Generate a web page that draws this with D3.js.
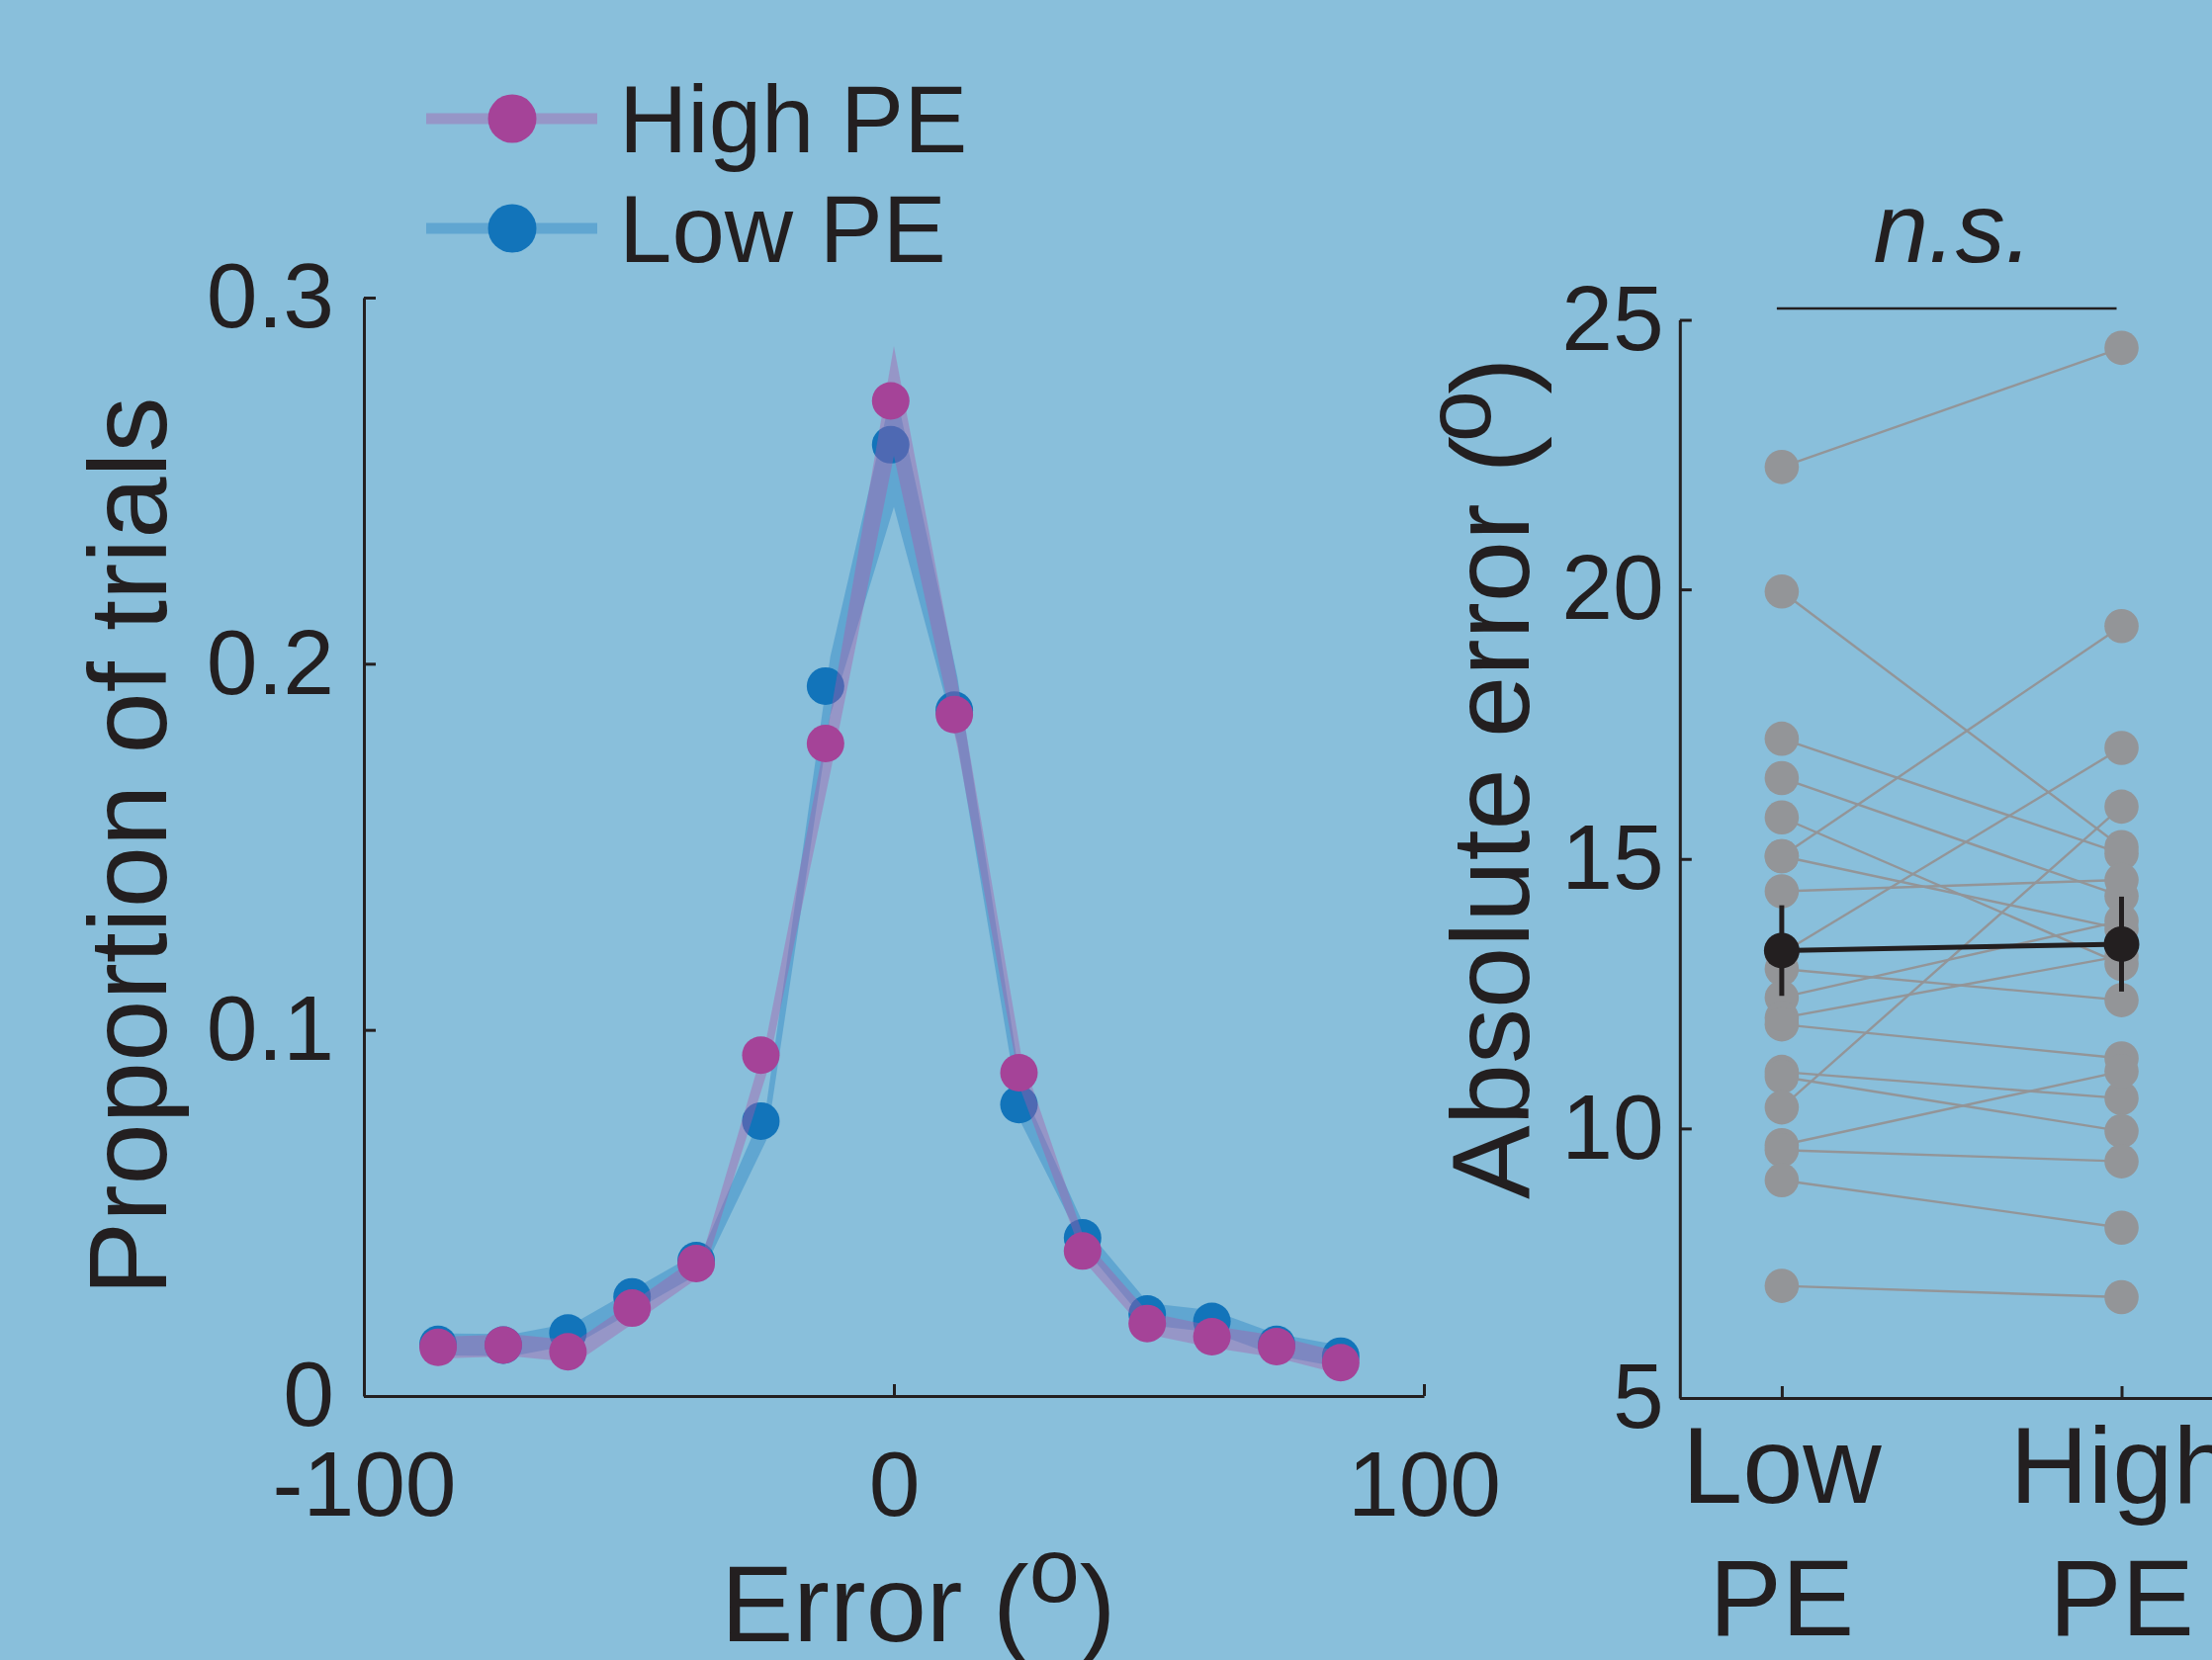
<!DOCTYPE html>
<html><head><meta charset="utf-8">
<script src="https://cdn.jsdelivr.net/npm/d3@7"></script>
<style>html,body{margin:0;padding:0;background:#89bfdb;overflow:hidden}</style>
</head><body>
<svg id="c" width="2237" height="1679"></svg>
<script>
// ---------- DATA ----------
// Left panel: error distribution
const binX = [-84,-72,-60,-48,-36,-24,-12,0,12,24,36,48,60,72,84];           // band vertices
const dotX = [-86,-73.7,-61.5,-49.4,-37.3,-25.1,-12.9,-0.6,11.4,23.6,35.6,47.8,60,72.2,84.3]; // marker positions
const highPE = [0.0133,0.0139,0.0121,0.0240,0.0362,0.0931,0.1782,0.2718,0.1861,0.0883,0.0396,0.0198,0.0162,0.0135,0.0091];
const lowPE  = [0.0141,0.0139,0.0172,0.0271,0.0370,0.0751,0.1939,0.2598,0.1873,0.0796,0.0432,0.0224,0.0204,0.0141,0.0109];
const highSem = [0.003,0.003,0.003,0.003,0.003,0.005,0.008,0.015,0.009,0.005,0.003,0.003,0.003,0.003,0.003];
const lowSem  = [0.003,0.003,0.003,0.003,0.003,0.005,0.008,0.017,0.009,0.005,0.003,0.003,0.003,0.003,0.003];
const xTicksL = [-100,0,100];
const xTickLabelsL = ["-100","0","100"];
const yTicksL = [0,0.1,0.2,0.3];
const yTickLabelsL = ["0","0.1","0.2","0.3"];
const legendLabels = ["High PE","Low PE"];

// Right panel: absolute error per subject
const condNames = [["Low","PE"],["High","PE"]];
const absErrLow  = [22.27,19.96,17.23,16.50,15.77,15.05,15.05,14.40,13.25,12.96,12.43,12.05,11.93,11.05,10.96,10.39,9.69,9.60,9.04,7.08];
const absErrHigh = [24.48,15.22,15.10,14.31,13.05,19.32,13.70,14.61,17.06,12.38,13.85,13.20,11.30,10.56,9.95,15.97,11.06,9.39,8.16,6.87];
const groupMean = [13.30,13.42];
const groupSem  = [0.84,0.88];
const yTicksR = [5,10,15,20,25];
const yTickLabelsR = ["5","10","15","20","25"];
const sigLabel = "n.s.";

// ---------- STYLE ----------
const FONT = "'Liberation Sans', Arial, Helvetica, sans-serif";
const INK = "#231f20";
const BG = "#89bfdb";
const magenta = "#a54398", blue = "#1274ba";
const bandPurple = "rgb(170,91,169)", bandBlue = "rgb(35,131,196)";
const bandAlpha = 0.4;
const gray = "#939598";

const svg = d3.select("#c");
svg.append("rect").attr("width",2237).attr("height",1679).attr("fill",BG);

// ---------- LEFT PANEL ----------
const xL = d3.scaleLinear().domain([-100,100]).range([368,1440]);
const yL = d3.scaleLinear().domain([0,0.3]).range([1412,301]);

function band(mean, sem){
  return d3.area().x((d,i)=>xL(binX[i])).y0((d,i)=>yL(mean[i]-sem[i])).y1((d,i)=>yL(mean[i]+sem[i]))(mean);
}
const gL = svg.append("g");
gL.append("path").attr("d",band(lowPE,lowSem)).attr("fill",bandBlue).attr("fill-opacity",bandAlpha);
gL.selectAll("circle.low").data(lowPE).join("circle").attr("class","low")
  .attr("cx",(d,i)=>xL(dotX[i])).attr("cy",d=>yL(d)).attr("r",19).attr("fill",blue);
gL.append("path").attr("d",band(highPE,highSem)).attr("fill",bandPurple).attr("fill-opacity",bandAlpha);
gL.selectAll("circle.high").data(highPE).join("circle").attr("class","high")
  .attr("cx",(d,i)=>xL(dotX[i])).attr("cy",d=>yL(d)).attr("r",19).attr("fill",magenta);

function styleAxis(g, fs){
  g.attr("font-size",fs).attr("font-family",FONT).attr("color",INK);
  g.selectAll("path,line").attr("stroke",INK).attr("stroke-width",3);
}
const gxL = svg.append("g").attr("transform","translate(0,1412)")
  .call(d3.axisBottom(xL).tickValues(xTicksL).tickFormat((d,i)=>xTickLabelsL[i]).tickSizeInner(-12).tickSizeOuter(0).tickPadding(55));
styleAxis(gxL,93);
const gyL = svg.append("g").attr("transform","translate(368,0)")
  .call(d3.axisLeft(yL).tickValues(yTicksL).tickFormat((d,i)=>yTickLabelsL[i]).tickSizeInner(-12).tickSizeOuter(0).tickPadding(30));
styleAxis(gyL,93);

// axis titles
svg.append("text").attr("transform","translate(168,856) rotate(-90)")
  .attr("text-anchor","middle").attr("font-family",FONT).attr("font-size",112).attr("fill",INK)
  .text("Proportion of trials");
const xt = svg.append("text").attr("x",729).attr("y",1660).attr("font-family",FONT).attr("font-size",110).attr("fill",INK);
xt.append("tspan").text("Error (");
xt.append("tspan").attr("font-size",92).attr("dy",-40).text("o");
xt.append("tspan").attr("dy",40).text(")");

// legend
const legColors = [[bandPurple,magenta],[bandBlue,blue]];
const legY = [120,231];
legendLabels.forEach((lab,i)=>{
  const g = svg.append("g");
  g.append("line").attr("x1",431).attr("x2",604).attr("y1",legY[i]).attr("y2",legY[i])
    .attr("stroke",legColors[i][0]).attr("stroke-opacity",bandAlpha).attr("stroke-width",11);
  g.append("circle").attr("cx",518).attr("cy",legY[i]).attr("r",24.5).attr("fill",legColors[i][1]);
  g.append("text").attr("x",626).attr("y",legY[i]+34).attr("font-family",FONT).attr("font-size",96).attr("fill",INK).text(lab);
});

// ---------- RIGHT PANEL ----------
const xR = d3.scaleLinear().domain([0.7,2.3]).range([1698.8,2248.6]);
const yR = d3.scaleLinear().domain([5,25]).range([1414,323.5]);
const gR = svg.append("g");
const subj = absErrLow.map((v,i)=>[v,absErrHigh[i]]);
gR.selectAll("line.subj").data(subj).join("line").attr("class","subj")
  .attr("x1",xR(1)).attr("x2",xR(2)).attr("y1",d=>yR(d[0])).attr("y2",d=>yR(d[1]))
  .attr("stroke",gray).attr("stroke-width",2.4);
gR.selectAll("circle.sl").data(absErrLow).join("circle").attr("class","sl")
  .attr("cx",xR(1)).attr("cy",d=>yR(d)).attr("r",17.3).attr("fill",gray);
gR.selectAll("circle.sh").data(absErrHigh).join("circle").attr("class","sh")
  .attr("cx",xR(2)).attr("cy",d=>yR(d)).attr("r",17.3).attr("fill",gray);
// group mean
gR.append("line").attr("x1",xR(1)).attr("x2",xR(2)).attr("y1",yR(groupMean[0])).attr("y2",yR(groupMean[1]))
  .attr("stroke",INK).attr("stroke-width",5);
groupMean.forEach((m,i)=>{
  gR.append("line").attr("x1",xR(i+1)).attr("x2",xR(i+1)).attr("y1",yR(m-groupSem[i])).attr("y2",yR(m+groupSem[i]))
    .attr("stroke",INK).attr("stroke-width",5);
  gR.append("circle").attr("cx",xR(i+1)).attr("cy",yR(m)).attr("r",18).attr("fill",INK);
});

const gyR = svg.append("g").attr("transform","translate(1698.8,0)")
  .call(d3.axisLeft(yR).tickValues(yTicksR).tickFormat((d,i)=>yTickLabelsR[i]).tickSizeInner(-12).tickSizeOuter(0).tickPadding(16));
styleAxis(gyR,93);
const gxR = svg.append("g").attr("transform","translate(0,1414)")
  .call(d3.axisBottom(xR).tickValues([1,2]).tickFormat("").tickSizeInner(-12).tickSizeOuter(0));
styleAxis(gxR,110);
condNames.forEach((lines,i)=>{
  const t = svg.append("text").attr("text-anchor","middle").attr("font-family",FONT).attr("font-size",110).attr("fill",INK);
  t.append("tspan").attr("x",xR(i+1)).attr("y",1520).text(lines[0]);
  t.append("tspan").attr("x",xR(i+1)).attr("y",1654).text(lines[1]);
});

// y title
const yt = svg.append("text").attr("transform","translate(1546,1213) rotate(-90)")
  .attr("font-family",FONT).attr("font-size",112).attr("fill",INK);
yt.append("tspan").text("Absolute error (");
yt.append("tspan").attr("font-size",94).attr("dy",-39).attr("dx",-6).text("o");
yt.append("tspan").attr("dy",39).attr("dx",-4).text(")");

// significance
svg.append("line").attr("x1",xR(1)-5).attr("x2",xR(2)-5).attr("y1",312).attr("y2",312).attr("stroke",INK).attr("stroke-width",2.5);
svg.append("text").attr("x",1975).attr("y",265).attr("text-anchor","middle").attr("font-family",FONT)
  .attr("font-style","italic").attr("font-size",100).attr("fill",INK).text(sigLabel);
</script>
</body></html>
